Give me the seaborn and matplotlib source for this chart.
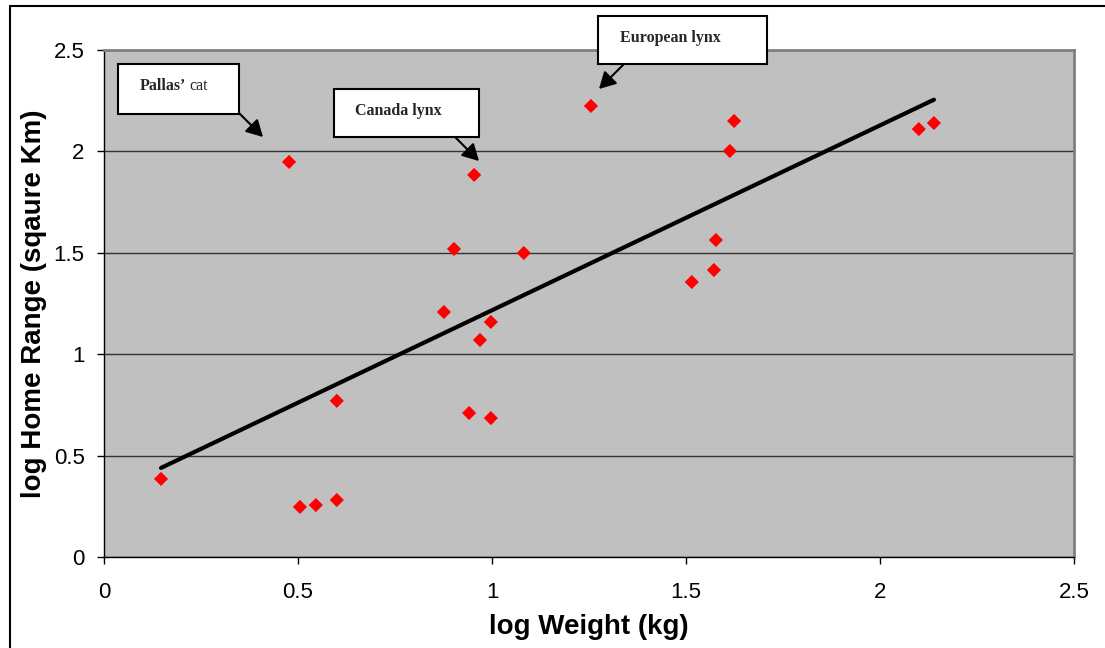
import numpy as np
import pandas as pd
import matplotlib.pyplot as plt
import seaborn as sns
from matplotlib.patches import Rectangle
from matplotlib.lines import Line2D

# Data (log10 values)
log_weight = [0.147, 0.477, 0.600, 0.505, 0.546, 0.600, 0.876, 0.902, 0.954, 0.941, 0.969,
              0.997, 0.997, 1.082, 1.255, 1.515, 1.572, 1.577, 1.613, 1.624, 2.100, 2.139]
log_range = [0.385, 1.948, 0.770, 0.247, 0.256, 0.281, 1.208, 1.519, 1.884, 0.710, 1.070,
             1.159, 0.685, 1.499, 2.224, 1.356, 1.415, 1.563, 2.002, 2.150, 2.110, 2.140]
ticks = [0, 0.5, 1, 1.5, 2, 2.5]
tick_labels = ["0", "0.5", "1", "1.5", "2", "2.5"]

cats = pd.DataFrame({"log Weight (kg)": log_weight, "log Home Range (sqaure Km)": log_range})

sns.set_style("white")
plt.rcParams["font.family"] = ["Liberation Sans", "DejaVu Sans"]

W, H = 1105, 648
fig = plt.figure(figsize=(W / 100, H / 100), dpi=100)
ax = fig.add_axes([104 / W, 1 - 557 / H, (1074 - 104) / W, (557 - 50) / H])
ax.set_facecolor("#C0C0C0")


def fx(px):
    return px / W


def fy(py):
    return 1 - py / H


# trend line + points
sns.regplot(data=cats, x="log Weight (kg)", y="log Home Range (sqaure Km)", scatter=False,
            ci=None, color="black", line_kws={"linewidth": 3.0, "solid_capstyle": "round"}, ax=ax)
sns.scatterplot(data=cats, x="log Weight (kg)", y="log Home Range (sqaure Km)", marker="D",
                s=52, color="#FF0000", edgecolor="none", zorder=4, ax=ax)

ax.set_xlim(0, 2.5)
ax.set_ylim(0, 2.5)
ax.set_xticks(ticks, tick_labels)
ax.set_yticks(ticks, tick_labels)
ax.yaxis.grid(True, color="#333333", linewidth=1.0)
ax.set_axisbelow(True)
ax.tick_params(axis="both", direction="out", length=5, width=1, color="black",
               labelsize=16, labelcolor="black")
ax.tick_params(axis="x", pad=13, bottom=True)
ax.tick_params(axis="y", pad=9, left=True)

for side in ["left", "bottom"]:
    ax.spines[side].set_color("black")
    ax.spines[side].set_linewidth(1.0)
for side in ["top", "right"]:
    ax.spines[side].set_color("#808080")
    ax.spines[side].set_linewidth(2.0)

ax.set_xlabel("log Weight (kg)", fontsize=20, fontweight="bold", color="black", labelpad=8)
ax.set_ylabel("log Home Range (sqaure Km)", fontsize=20, fontweight="bold", color="black",
              labelpad=5)

# outer frame (top and left edges visible)
fig.add_artist(Line2D([fx(10), 1.0], [fy(6), fy(6)], color="black", linewidth=1.5,
                      transform=fig.transFigure))
fig.add_artist(Line2D([fx(10), fx(10)], [fy(6), 0.0], color="black", linewidth=1.5,
                      transform=fig.transFigure))

# callout boxes
serif = ["Liberation Serif", "DejaVu Serif"]
boxes = [(118, 64, 239, 114), (334, 89, 479, 137), (598, 16, 767, 64)]
for x0, y0, x1, y1 in boxes:
    fig.add_artist(Rectangle((fx(x0), fy(y1)), fx(x1 - x0), (y1 - y0) / H, facecolor="white",
                             edgecolor="black", linewidth=1.5, transform=fig.transFigure,
                             zorder=5))

fig.text(fx(140), fy(86), "Pallas\u2019", fontsize=11.5, fontweight="bold", family=serif,
         ha="left", va="center", zorder=6)
fig.text(fx(189), fy(86), "cat", fontsize=11.5, family=serif, ha="left", va="center", zorder=6)
fig.text(fx(355), fy(111), "Canada lynx", fontsize=11.5, fontweight="bold", family=serif,
         ha="left", va="center", zorder=6)
fig.text(fx(620), fy(38), "European lynx", fontsize=11.5, fontweight="bold", family=serif,
         ha="left", va="center", zorder=6)

arrows = [((239, 113), (263, 137)), ((455, 137), (479, 161)), ((624, 64), (599, 89))]
for (sx, sy), (ex, ey) in arrows:
    fig.add_artist(plt.Annotation("", xy=(fx(ex), fy(ey)), xytext=(fx(sx), fy(sy)),
                                  xycoords="figure fraction", textcoords="figure fraction",
                                  arrowprops=dict(arrowstyle="-|>,head_length=1.0,head_width=0.55",
                                                  color="black", linewidth=1.5,
                                                  shrinkA=0, shrinkB=0)))

fig.savefig("out.png", dpi=100)
